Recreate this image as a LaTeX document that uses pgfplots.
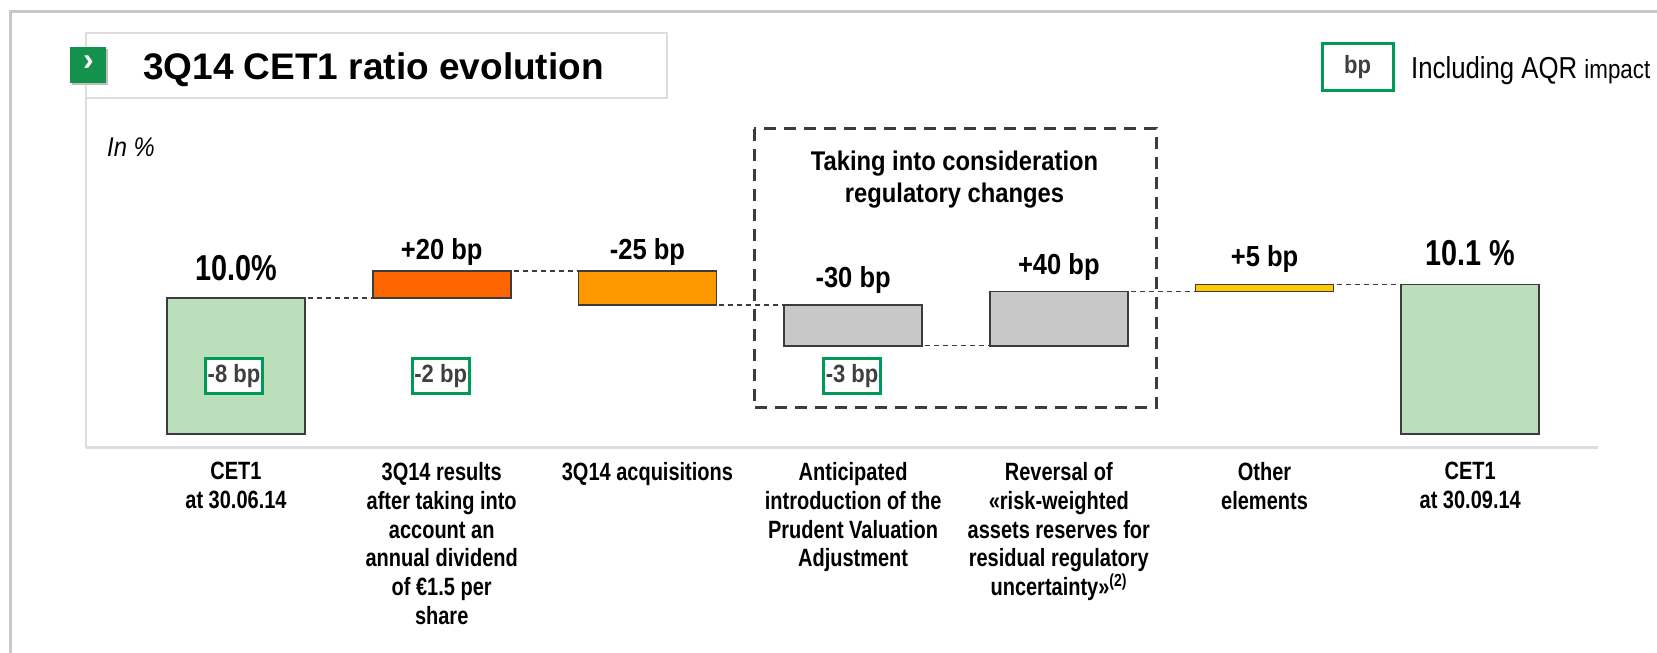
\documentclass[border=0pt]{standalone}
\usepackage{pgfplots}
\pgfplotsset{compat=1.18}
\usepackage{pgfplotstable}
\usepackage{fontspec}
\setmainfont{Liberation Sans}
\newfontfamily\fn[FakeStretch=0.88]{Liberation Sans}
\newfontfamily\fnn[FakeStretch=0.8]{Liberation Sans}
\newfontfamily\fnr[FakeStretch=0.85]{Liberation Sans}
\definecolor{cgreen}{HTML}{BBDFBB}
\definecolor{cred}{HTML}{FF6600}
\definecolor{corange}{HTML}{FF9900}
\definecolor{cgray}{HTML}{C8C8C8}
\definecolor{cyellow}{HTML}{FFC800}
\definecolor{outl}{HTML}{3C3C3C}
\definecolor{boxgreen}{HTML}{009A57}
\definecolor{icongreen}{HTML}{15914E}
\definecolor{framegray}{HTML}{C8C8C8}
\definecolor{linegray}{HTML}{DDDDDD}
\definecolor{txtgray}{HTML}{3F3F3F}

% waterfall: invisible base + visible segment (in bp, 1000 = 10.0%)
\pgfplotstableread{
x base green red orange gray yellow
0 900 100 0 0 0 0
1 1000 0 20 0 0 0
2 995 0 0 25 0 0
3 965 0 0 0 30 0
4 965 0 0 0 40 0
5 1005 0 0 0 0 5
6 900 110 0 0 0 0
}\wf

\pgfplotstableread{
x y
0 1000
1 1000
nan nan
1 1020
2 1020
nan nan
2 995
3 995
nan nan
3 965
4 965
nan nan
4 1005
5 1005
nan nan
5 1010
6 1010
}\conn

\newcommand\bplab{\fn\bfseries\fontsize{29}{32}\selectfont}
\newcommand\pclab{\fnn\bfseries\fontsize{36}{40}\selectfont}
\newcommand\aqr{\fn\bfseries\fontsize{25}{27}\selectfont\color{txtgray}}

\pgfplotsset{
  geom/.style={at={(85.7pt,205.3pt)}, anchor=south west, scale only axis,
    width=1512pt, height=312.8pt, xmin=-0.7307, xmax=6.6198, ymin=890, ymax=1120},
  seg/.style={draw=outl, line width=1.6pt},
}
\tikzset{
  aqrbox/.style={draw=boxgreen, line width=3pt, fill=white, font=\aqr,
    minimum width=57pt, minimum height=35pt, inner sep=1pt},
}

\begin{document}
\begin{tikzpicture}[x=1pt,y=1pt]
\path[use as bounding box] (0,0) rectangle (1657,653);
% outer frame
\draw[framegray, line width=3.5pt] (10.5,-10) -- (10.5,641.5) -- (1670,641.5);
% title box and inner frame line
\draw[linegray, line width=2pt] (85.7,555) rectangle (667,620);
\draw[linegray, line width=2pt] (85.7,555) -- (85.7,205.3);
% icon
\fill[black!25] (72,568) rectangle (108,604);
\fill[icongreen] (70,570) rectangle (106,606);
\node[text=white, font=\bfseries\fontsize{32}{32}\selectfont] at (88.5,589.5) {›};
\node[anchor=base west, inner sep=0pt, font=\bfseries\fontsize{37}{40}\selectfont] at (143,573) {3Q14 CET1 ratio evolution};
\node[anchor=base west, inner sep=0pt, font=\fn\itshape\fontsize{27}{30}\selectfont] at (107,496) {In \%};
% legend
\draw[boxgreen, line width=3pt] (1322,609) rectangle (1393,562);
\node[font=\aqr] at (1357.5,585.5) {bp};
\node[anchor=base west, inner sep=0pt, font=\fnr\fontsize{30.3}{33}\selectfont] at (1411,574.7) {Including AQR {\fontsize{26.3}{29}\selectfont impact}};
% dashed regulatory box
\draw[outl, line width=3pt, dash pattern=on 12pt off 8pt] (754,524) rectangle (1156,245);
\node[anchor=base, inner sep=0pt, font=\fn\bfseries\fontsize{27}{30}\selectfont] at (954.5,482) {Taking into consideration};
\node[anchor=base, inner sep=0pt, font=\fn\bfseries\fontsize{27}{30}\selectfont] at (954.5,450) {regulatory changes};

\begin{axis}[geom, ybar stacked, bar width=0.671,
  hide y axis, axis x line*=bottom,
  x axis line style={draw=linegray, line width=2.5pt, -},
  xtick={0,...,6}, major tick length=0pt,
  xticklabels={{CET1\\at 30.06.14},
    {3Q14 results\\after taking into\\account an\\annual dividend\\of €1.5 per\\share},
    {3Q14 acquisitions},
    {Anticipated\\introduction of the\\Prudent Valuation\\Adjustment},
    {Reversal of\\«risk-weighted\\assets reserves for\\residual regulatory\\uncertainty»\textsuperscript{(2)}},
    {Other\\elements},
    {CET1\\at 30.09.14}},
  xticklabel style={font=\fnn\bfseries\fontsize{25}{28.8}\selectfont, align=center,
    anchor=north, inner sep=0pt, yshift=-14.5pt},
  ]
\addplot[draw=none, fill=none] table[x=x, y=base] {\wf};
\addplot[seg, fill=cgreen] table[x=x, y=green] {\wf};
\addplot[seg, fill=cred] table[x=x, y=red] {\wf};
\addplot[seg, fill=corange] table[x=x, y=orange] {\wf};
\addplot[seg, fill=cgray] table[x=x, y=gray] {\wf};
\addplot[seg, fill=cyellow] table[x=x, y=yellow] {\wf};
\end{axis}

\begin{axis}[geom, hide axis, clip=false]
\addplot[outl, line width=1.3pt, dash pattern=on 5pt off 4pt, unbounded coords=jump, mark=none] table[x=x, y=y] {\conn};
\node[anchor=base, inner sep=0pt, font=\pclab, yshift=18pt] at (axis cs:0,1000) {10.0\%};
\node[anchor=base, inner sep=0pt, font=\bplab, yshift=11.5pt] at (axis cs:1,1020) {+20 bp};
\node[anchor=base, inner sep=0pt, font=\bplab, yshift=11.5pt] at (axis cs:2,1020) {-25 bp};
\node[anchor=base, inner sep=0pt, font=\bplab, yshift=17.5pt] at (axis cs:3,995) {-30 bp};
\node[anchor=base, inner sep=0pt, font=\bplab, yshift=17pt] at (axis cs:4,1005) {+40 bp};
\node[anchor=base, inner sep=0pt, font=\bplab, yshift=18pt] at (axis cs:5,1010) {+5 bp};
\node[anchor=base, inner sep=0pt, font=\pclab, yshift=19pt] at (axis cs:6,1010) {10.1 \%};
\node[aqrbox] at (axis cs:-0.01,943) {-8 bp};
\node[aqrbox] at (axis cs:0.995,943) {-2 bp};
\node[aqrbox] at (axis cs:2.995,943) {-3 bp};
\end{axis}
\end{tikzpicture}
\end{document}
